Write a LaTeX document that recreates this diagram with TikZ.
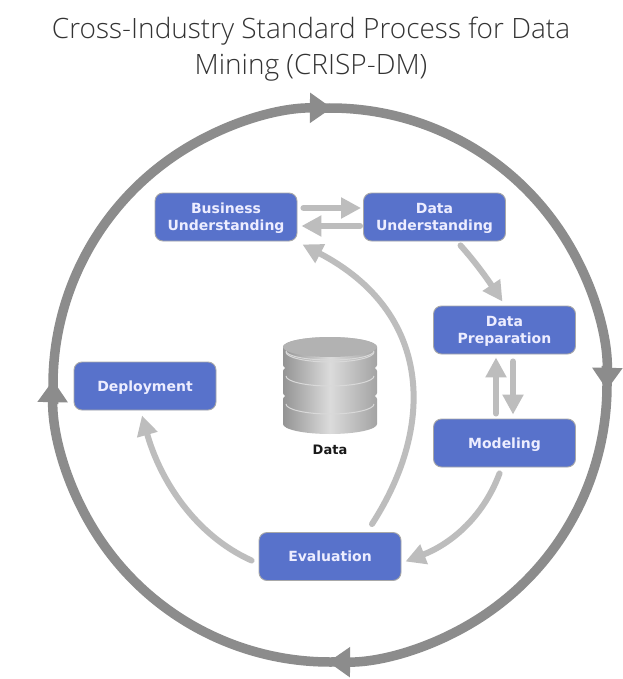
\documentclass[tikz,border=0pt]{standalone}
\usepackage{fontspec}
\setmainfont{DejaVu Sans}
\newfontfamily\titlefont{Open Sans Light}
\usetikzlibrary{arrows.meta,calc,positioning,shapes.geometric}
\definecolor{boxblue}{HTML}{5872CB}
\definecolor{boxedge}{HTML}{A8A8A8}
\definecolor{ringgray}{HTML}{8C8C8C}
\definecolor{flowgray}{HTML}{BDBDBD}
\newcommand{\toppad}{\rule{0pt}{12.6pt}}
\tikzset{
  phase/.style={draw=boxedge,line width=0.9pt,fill=boxblue,rounded corners=8pt,minimum width=142pt,minimum height=48pt,inner sep=0pt,align=center,text=white!93!blue,font=\bfseries\fontsize{14}{17}\selectfont},
  flow/.style={draw=flowgray,line width=6pt,line cap=round,-{Triangle[length=20pt,width=20pt]}},
  ring/.style={draw=ringgray,line width=9.5pt,-{Triangle[length=22pt,width=29pt]}},
  disc/.style={draw=none,left color=black!42,right color=black!36,middle color=black!14},
  ridge/.style={draw=white!85!black,line width=1pt},
}
\newcommand{\stackdisc}[2]{%
  \path[disc] (283,#1) -- (283,#2) arc[x radius=47pt,y radius=10pt,start angle=180,end angle=360] -- (377,#1) arc[x radius=47pt,y radius=10pt,start angle=0,end angle=180] -- cycle;
  \draw[ridge] (286,#1+5) arc[x radius=44pt,y radius=10pt,start angle=180,end angle=360];
}
\begin{document}
\begin{tikzpicture}[x=1pt,y=-1pt]
\useasboundingbox (0,0) rectangle (622,679);
\fill[white] (0,0) rectangle (622,679);

\node[font=\titlefont\fontsize{28}{36}\selectfont,text=black!80,align=center,inner sep=0pt] (title) at (311,49.5) {Cross-Industry Standard Process for Data\\Mining (CRISP-DM)};

% outer cycle
\coordinate (c) at (330,385);
\coordinate (rL) at ($(c)+(184:277pt)$);
\coordinate (rT) at ($(c)+(94:277pt)$);
\coordinate (rR) at ($(c)+(4:277pt)$);
\coordinate (rB) at ($(c)+(-86:277pt)$);
\draw[ring] (rL) arc[start angle=184,end angle=89.6,radius=277pt];
\draw[ring] (rT) arc[start angle=94,end angle=-1,radius=277pt];
\draw[ring] (rR) arc[start angle=4,end angle=-90.4,radius=277pt];
\draw[ring] (rB) arc[start angle=-86,end angle=-181,radius=277pt];

% phases
\node[phase] (biz) at (226,217) {\toppad Business\\Understanding};
\node[phase] (du) at (434.5,217) {\toppad Data\\Understanding};
\node[phase] (dp) at (504.5,330) {\toppad Data\\Preparation};
\node[phase] (mod) at (504.5,443) {\rule{0pt}{13.4pt}Modeling};
\node[phase] (dep) at (145,386) {\rule{0pt}{13.4pt}Deployment};
\node[phase] (ev) at (330,556.5) {Evaluation};

% flows
\draw[flow,shorten <=6pt,shorten >=2pt] ([yshift=9pt]biz.east) -- ([yshift=9pt]du.west);
\draw[flow,shorten <=3pt,shorten >=4pt] ([yshift=-9pt]du.west) -- ([yshift=-9pt]biz.east);
\draw[flow] ([shift={(26pt,-4pt)}]du.south) .. controls (478,265) and (490,283) .. ([shift={(-2pt,4pt)}]dp.north);
\draw[flow,shorten <=5pt,shorten >=3pt] ([xshift=-8.5pt]mod.north) -- ([xshift=-8.5pt]dp.south);
\draw[flow,shorten <=7pt,shorten >=4pt] ([xshift=8.5pt]dp.south) -- ([xshift=8.5pt]mod.north);
\draw[flow] ([shift={(-5pt,-6pt)}]mod.south) .. controls (482,520) and (448,545) .. ([shift={(4pt,-5pt)}]ev.east);
\draw[flow] ([shift={(42pt,8pt)}]ev.north) .. controls (436,425) and (432,312) .. ([shift={(5pt,-3pt)}]biz.south east);
\draw[flow] ([shift={(-7pt,-4pt)}]ev.west) .. controls (195,535) and (160,480) .. ([shift={(-3pt,-5pt)}]dep.south);

% data store
\stackdisc{399}{424}
\stackdisc{371}{393}
\stackdisc{347}{365}
\fill[black!30] (330,347) ellipse[x radius=47pt,y radius=10pt];
\draw[ridge] (286,351) arc[x radius=44pt,y radius=9pt,start angle=180,end angle=360];
\node[font=\bfseries\fontsize{13}{15}\selectfont,text=black!90,inner sep=0pt] (data) at (330,450) {Data};
\end{tikzpicture}
\end{document}
